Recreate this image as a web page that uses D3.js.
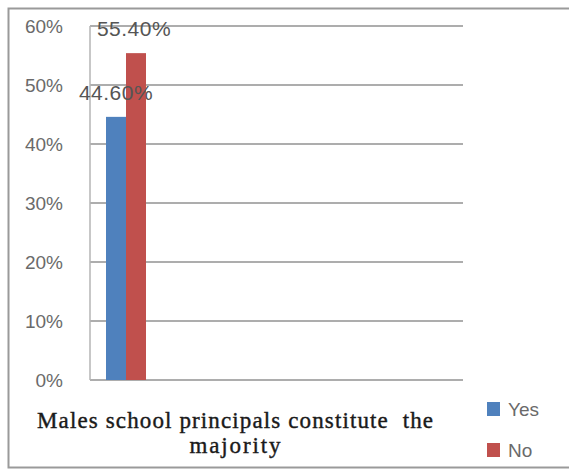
<!DOCTYPE html>
<html>
<head>
<meta charset="utf-8">
<script src="https://cdn.jsdelivr.net/npm/d3@7"></script>
<style>
  html, body { margin: 0; padding: 0; background: #fff; }
  svg { display: block; }
</style>
</head>
<body>
<svg id="chart" width="569" height="469"></svg>
<script>
// Survey answer shares for a single statement
const category = ["Males school principals constitute  the", "majority"];
const series = ["Yes", "No"];
const values = [0.446, 0.554];
const valueLabels = ["44.60%", "55.40%"];
const colors = ["#4F81BD", "#C0504D"];
const yTicks = [0, 0.1, 0.2, 0.3, 0.4, 0.5, 0.6];

const svg = d3.select("#chart");

// chart frame
svg.append("rect")
  .attr("x", 8.5).attr("y", 8.5)
  .attr("width", 580).attr("height", 459)
  .attr("fill", "#fff")
  .attr("stroke", "#9a9a9a").attr("stroke-width", 2);

const plot = { left: 90, right: 463, top: 26, bottom: 380 };

const y = d3.scaleLinear().domain([0, 0.6]).range([plot.bottom, plot.top]);
const x = d3.scaleBand().domain(series).range([106, 146]).padding(0);

// horizontal gridlines
svg.append("g")
  .selectAll("line")
  .data(yTicks)
  .join("line")
  .attr("x1", plot.left).attr("x2", plot.right)
  .attr("y1", d => y(d)).attr("y2", d => y(d))
  .attr("stroke", "#adadad").attr("stroke-width", 2);

// left edge of the plot area
svg.append("line")
  .attr("x1", plot.left).attr("x2", plot.left)
  .attr("y1", plot.top).attr("y2", plot.bottom)
  .attr("stroke", "#b5b5b5").attr("stroke-width", 1.5);

// y axis tick labels
const yAxis = d3.axisLeft(y).tickValues(yTicks).tickFormat(d3.format(".0%")).tickSize(0).tickPadding(0);
const gy = svg.append("g").attr("transform", "translate(63,0)").call(yAxis);
gy.select(".domain").remove();
gy.selectAll("text")
  .attr("font-family", "'Liberation Sans', Arial, sans-serif")
  .attr("font-size", 19)
  .attr("fill", "#6a6a6a");

// bars
svg.append("g")
  .selectAll("rect")
  .data(series)
  .join("rect")
  .attr("x", d => x(d))
  .attr("width", x.bandwidth())
  .attr("y", (d, i) => y(values[i]))
  .attr("height", (d, i) => y(0) - y(values[i]))
  .attr("fill", (d, i) => colors[i]);

// value labels
svg.append("g")
  .selectAll("text")
  .data(series)
  .join("text")
  .attr("x", (d, i) => x(d) + x.bandwidth() / 2 - i * 2)
  .attr("y", (d, i) => y(values[i]) - 17)
  .attr("text-anchor", "middle")
  .attr("font-family", "'Liberation Sans', Arial, sans-serif")
  .attr("font-size", 21)
  .attr("letter-spacing", 0.5)
  .attr("fill", "#555")
  .text((d, i) => valueLabels[i]);

// category label (two lines)
const cat = svg.append("text")
  .attr("text-anchor", "middle")
  .attr("font-family", "'Liberation Serif', 'Times New Roman', serif")
  .attr("font-size", 23)
  .attr("fill", "#1a1a1a")
  .attr("stroke", "#1a1a1a")
  .attr("stroke-width", 0.4);
cat.append("tspan").attr("x", 235).attr("y", 428)
  .attr("textLength", 396).attr("lengthAdjust", "spacing")
  .style("white-space", "pre")
  .text(category[0]);
cat.append("tspan").attr("x", 235).attr("y", 453)
  .attr("textLength", 91).attr("lengthAdjust", "spacing")
  .text(category[1]);

// legend
const legend = svg.append("g")
  .selectAll("g")
  .data(series)
  .join("g")
  .attr("transform", (d, i) => `translate(487,${402 + i * 41})`);
legend.append("rect")
  .attr("width", 13).attr("height", 14)
  .attr("fill", (d, i) => colors[i]);
legend.append("text")
  .attr("x", 21).attr("y", 14)
  .attr("font-family", "'Liberation Sans', Arial, sans-serif")
  .attr("font-size", 19)
  .attr("fill", "#6a6a6a")
  .text(d => d);
</script>
</body>
</html>
